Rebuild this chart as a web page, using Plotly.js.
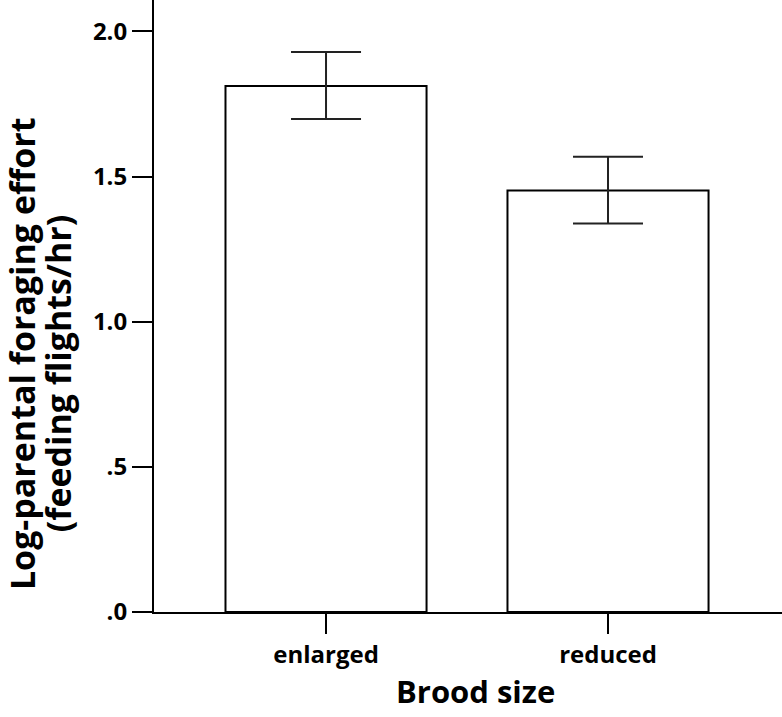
<!DOCTYPE html>
<html>
<head>
<meta charset="utf-8">
<script src="https://cdn.plot.ly/plotly-3.0.1.min.js"></script>
<style>
  html, body { margin: 0; padding: 0; background: #fff; }
  #chart { width: 782px; height: 717px; }
</style>
</head>
<body>
<div id="chart"></div>
<script>
// brood size groups and log foraging effort (mean +/- error)
const groups = ['enlarged', 'reduced'];
const effort = [1.812, 1.452];
const errPlus = [0.117, 0.116];
const errMinus = [0.114, 0.114];

const yTickVals = [0, 0.5, 1.0, 1.5, 2.0];
const yTickText = ['.0', '.5', '1.0', '1.5', '2.0'];
const yTitleLines = ['Log-parental foraging effort', '(feeding flights/hr)'];
const xTitle = 'Brood size';

const FONT = '"Open Sans", Lato, sans-serif';

const barTrace = {
    x: groups,
    y: effort,
    type: 'bar',
    width: 0.713,
    marker: { color: '#ffffff', line: { color: '#000000', width: 2 } },
    error_y: {
        type: 'data',
        symmetric: false,
        array: errPlus,
        arrayminus: errMinus,
        color: '#222222',
        thickness: 2,
        width: 35
    },
    hoverinfo: 'none'
};

// two-line y title drawn as rotated annotations (tighter line spacing than axis title)
const titleNotes = yTitleLines.map((t, i) => ({
    text: t,
    xref: 'paper', yref: 'paper',
    x: i === 0 ? -0.2102 : -0.1529,
    y: i === 0 ? 0.423 : 0.39,
    xanchor: 'center', yanchor: 'middle',
    textangle: -90,
    showarrow: false,
    font: { family: FONT, size: 34, weight: 'bold', color: '#000000' }
}));

// x title sits on the bottom edge of the figure
titleNotes.push({
    text: xTitle,
    xref: 'paper', yref: 'paper',
    x: 0.5127, y: -0.166,
    xanchor: 'center', yanchor: 'bottom',
    showarrow: false,
    font: { family: FONT, size: 31, weight: 'bold', color: '#000000' }
});

const layout = {
    width: 782,
    height: 717,
    margin: { l: 154, r: 0, t: 0, b: 105 },
    paper_bgcolor: '#ffffff',
    plot_bgcolor: '#ffffff',
    showlegend: false,
    font: { family: FONT, color: '#000000', size: 24, weight: 'bold' },
    annotations: titleNotes,
    xaxis: {
        type: 'category',
        range: [-0.61, 1.617],
        showline: true,
        linecolor: '#000000',
        linewidth: 2,
        ticks: 'outside',
        ticklen: 20,
        tickwidth: 2,
        tickcolor: '#000000',
        showgrid: false,
        zeroline: false,
        tickfont: { family: FONT, size: 24, weight: 'bold' }
    },
    yaxis: {
        range: [0, 2.108],
        tickvals: yTickVals,
        ticktext: yTickText,
        showline: true,
        linecolor: '#000000',
        linewidth: 2,
        ticks: 'outside',
        ticklen: 20,
        tickwidth: 2,
        tickcolor: '#000000',
        showgrid: false,
        zeroline: false,
        tickfont: { family: FONT, size: 24, weight: 'bold' }
    }
};

Plotly.newPlot('chart', [barTrace], layout, { displayModeBar: false, staticPlot: true });
</script>
</body>
</html>
